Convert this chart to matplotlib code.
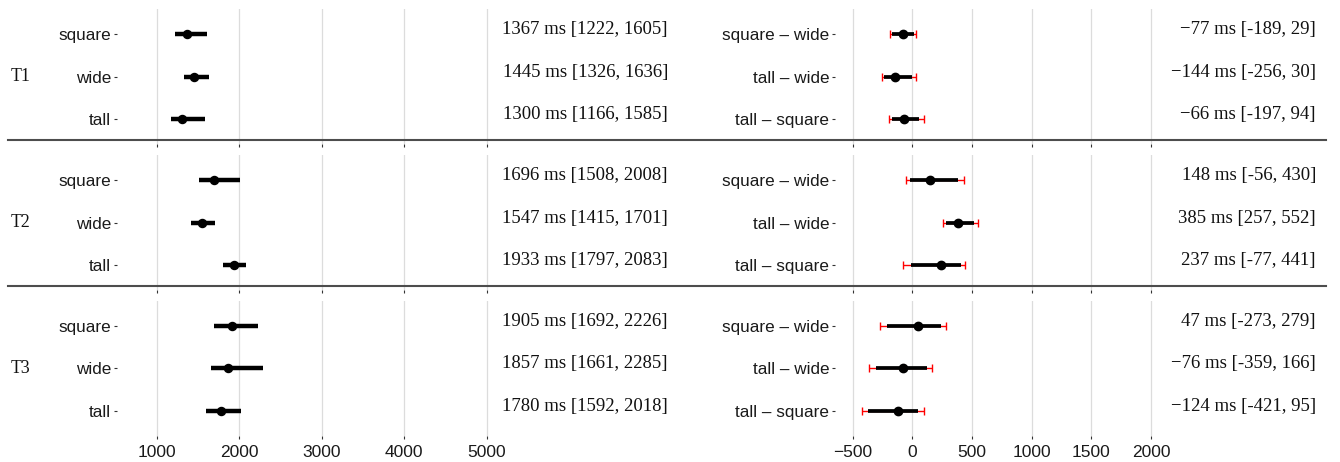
import matplotlib
matplotlib.use("Agg")
import matplotlib.pyplot as plt
from matplotlib.lines import Line2D
from matplotlib.transforms import blended_transform_factory
import numpy as np

# ---------------- data ----------------
trials = ["T1", "T2", "T3"]
conditions = ["square", "wide", "tall"]
cond_est = [[1367, 1445, 1300], [1696, 1547, 1933], [1905, 1857, 1780]]
cond_lo = [[1222, 1326, 1166], [1508, 1415, 1797], [1692, 1661, 1592]]
cond_hi = [[1605, 1636, 1585], [2008, 1701, 2083], [2226, 2285, 2018]]

contrasts = ["square \u2013 wide", "tall \u2013 wide", "tall \u2013 square"]
diff_est = [[-77, -144, -66], [148, 385, 237], [47, -76, -124]]
diff_lo = [[-189, -256, -197], [-56, 257, -77], [-273, -359, -421]]
diff_hi = [[29, 30, 94], [430, 552, 441], [279, 166, 95]]
diff_lo_inner = [[-168, -240, -173], [-20, 285, -10], [-210, -308, -369]]
diff_hi_inner = [[14, -5, 58], [380, 520, 405], [243, 122, 50]]

left_ticks = [1000, 2000, 3000, 4000, 5000]
right_ticks = [-500, 0, 500, 1000, 1500, 2000]
left_xlim = (515, 7587)
right_xlim = (-648, 3467)

# ---------------- layout ----------------
W, H = 1340, 462
fig = plt.figure(figsize=(W / 100, H / 100), dpi=100)

SANS = "Liberation Sans"
SERIF = "Liberation Serif"

row_bottom_px = [144.3, 290.4, 436.0]
row_h_px = 135.4
left_px = (117, 700)
right_px = (835, 1326)


def fmt_est(v):
    return ("\u2212" if v < 0 else "") + str(abs(v))


def style_axes(ax, ticks, xlim, labels, show_xlabels):
    ypos = np.arange(len(labels))
    ax.set_xlim(*xlim)
    ax.set_ylim(len(labels) - 0.4, -0.6)
    ax.set_xticks(ticks)
    ax.set_yticks(ypos)
    ax.set_yticklabels(labels, family=SANS, fontsize=12.3, color="#1a1a1a")
    for s in ax.spines.values():
        s.set_visible(False)
    ax.grid(axis="x", color="#dcdcdc", linewidth=0.9)
    ax.grid(axis="y", visible=False)
    ax.set_axisbelow(True)
    ax.tick_params(axis="x", length=2.2, width=0.8, color="#333333",
                   labelbottom=show_xlabels, labelsize=12.5, pad=4,
                   labelcolor="#1a1a1a")
    ax.tick_params(axis="y", length=2.2, width=0.8, color="#333333", pad=2)
    if show_xlabels:
        for t in ax.get_xticklabels():
            t.set_family(SANS)
    ax.patch.set_alpha(0)


for r, trial in enumerate(trials):
    b = 1 - row_bottom_px[r] / H
    h = row_h_px / H
    axL = fig.add_axes([left_px[0] / W, b, (left_px[1] - left_px[0]) / W, h])
    axR = fig.add_axes([right_px[0] / W, b, (right_px[1] - right_px[0]) / W, h])

    ypos = np.arange(len(conditions))
    # left: condition estimates
    axL.hlines(ypos, cond_lo[r], cond_hi[r], color="black", linewidth=3.2,
               capstyle="butt", zorder=3)
    axL.plot(cond_est[r], ypos, "o", color="black", markersize=5.8, zorder=4)
    style_axes(axL, left_ticks, left_xlim, conditions, r == 2)
    trL = blended_transform_factory(axL.transAxes, axL.transData)
    for i in range(len(conditions)):
        axL.text(0.9451, ypos[i], f"{fmt_est(cond_est[r][i])} ms [{cond_lo[r][i]}, {cond_hi[r][i]}]",
                 transform=trL, ha="right", va="baseline", family=SERIF,
                 fontsize=13.5, color="#111111")

    # right: contrasts
    est = np.array(diff_est[r])
    lo = np.array(diff_lo[r])
    hi = np.array(diff_hi[r])
    axR.errorbar(est, ypos, xerr=[est - lo, hi - est], fmt="none",
                 ecolor="#ff0000", elinewidth=1.0, capsize=3.0, capthick=1.0,
                 zorder=2)
    axR.hlines(ypos, diff_lo_inner[r], diff_hi_inner[r], color="black",
               linewidth=2.7, capstyle="butt", zorder=3)
    axR.plot(est, ypos, "o", color="black", markersize=6.0, zorder=4)
    style_axes(axR, right_ticks, right_xlim, contrasts, r == 2)
    trR = blended_transform_factory(axR.transAxes, axR.transData)
    for i in range(len(contrasts)):
        axR.text(0.9796, ypos[i], f"{fmt_est(diff_est[r][i])} ms [{diff_lo[r][i]}, {diff_hi[r][i]}]",
                 transform=trR, ha="right", va="baseline", family=SERIF,
                 fontsize=13.5, color="#111111")

    # strip label
    fig.text(11 / W, b + h / 2, trial, family=SERIF, fontsize=12.8,
             ha="left", va="center", color="#111111")

    # separator line below the row
    if r < len(trials) - 1:
        tr = blended_transform_factory(fig.transFigure, axL.transData)
        fig.add_artist(Line2D([8 / W, 1326 / W], [len(conditions) - 0.5] * 2,
                              transform=tr, color="#4d4d4d", linewidth=1.5))

fig.savefig("out.png", dpi=100)
